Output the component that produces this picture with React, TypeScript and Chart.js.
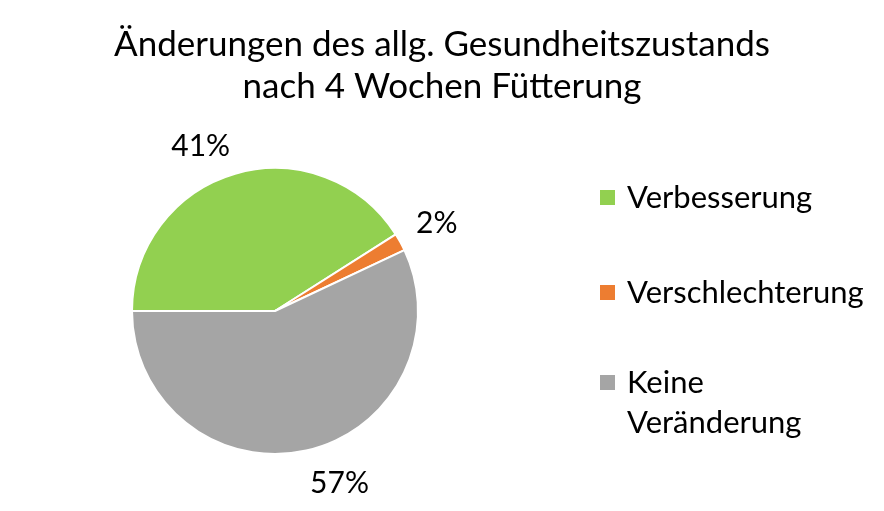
import React, { useEffect, useRef } from "react";
import { Chart, registerables } from "chart.js";

Chart.register(...registerables);

const categories = ["Verbesserung", "Verschlechterung", "Keine Veränderung"];
const legendLines = [["Verbesserung"], ["Verschlechterung"], ["Keine", "Veränderung"]];
const values = [41, 2, 57];
const colors = ["#92D050", "#ED7D31", "#A5A5A5"];
const titleLines = ["Änderungen des allg. Gesundheitszustands", "nach 4 Wochen Fütterung"];

const FONT = "Lato, 'Open Sans', sans-serif";

const overlayPlugin = {
  id: "overlay",
  afterDraw(chart: any) {
    const ctx = chart.ctx as CanvasRenderingContext2D;
    ctx.save();
    ctx.fillStyle = "#000";
    // title
    ctx.font = `35px ${FONT}`;
    ctx.textAlign = "center";
    ctx.textBaseline = "middle";
    titleLines.forEach((t, i) => ctx.fillText(t, chart.width / 2, 45 + i * 42));

    // data labels outside end
    const meta = chart.getDatasetMeta(0);
    const total = values.reduce((a, b) => a + b, 0);
    ctx.font = `30px ${FONT}`;
    meta.data.forEach((arc: any, i: number) => {
      const { x, y, startAngle, endAngle, outerRadius } = arc.getProps(
        ["x", "y", "startAngle", "endAngle", "outerRadius"],
        true
      );
      const mid = (startAngle + endAngle) / 2;
      const dx = Math.cos(mid);
      const dy = Math.sin(mid);
      const d = outerRadius + 18;
      const px = x + dx * d;
      const py = y + dy * d;
      ctx.textAlign = dx < 0 ? "right" : "left";
      ctx.textBaseline = dy < 0 ? "bottom" : "top";
      const pct = Math.round((values[i] / total) * 100) + "%";
      ctx.fillText(pct, px, py + (dy < 0 ? 5 : 0));
    });

    // legend
    const lx = 600;
    const tx = 627;
    const ys = [198, 293, 383];
    ctx.textAlign = "left";
    ctx.textBaseline = "middle";
    ctx.font = `31px ${FONT}`;
    categories.forEach((c, i) => {
      ctx.fillStyle = colors[i];
      ctx.fillRect(lx, ys[i] - 8, 15, 15);
      ctx.fillStyle = "#000";
      legendLines[i].forEach((line, j) => ctx.fillText(line, tx, ys[i] + j * 40));
    });
    ctx.restore();
  },
};

export default function App() {
  const ref = useRef<HTMLCanvasElement>(null);
  useEffect(() => {
    if (!ref.current) return;
    const chart = new Chart(ref.current, {
      type: "pie",
      data: {
        labels: categories,
        datasets: [
          {
            data: values,
            backgroundColor: colors,
            borderColor: "#ffffff",
            borderWidth: 2,
          },
        ],
      },
      options: {
        responsive: false,
        animation: false,
        rotation: -90,
        layout: { padding: { left: 131, right: 465, top: 167, bottom: 56 } },
        plugins: {
          legend: { display: false },
          title: { display: false },
          tooltip: { enabled: false },
        },
      },
      plugins: [overlayPlugin],
    });
    return () => chart.destroy();
  }, []);
  return (
    <div style={{ position: "fixed", left: 0, top: 0, width: 884, height: 511, background: "#fff" }}>
      <canvas ref={ref} width={884} height={511} />
    </div>
  );
}
